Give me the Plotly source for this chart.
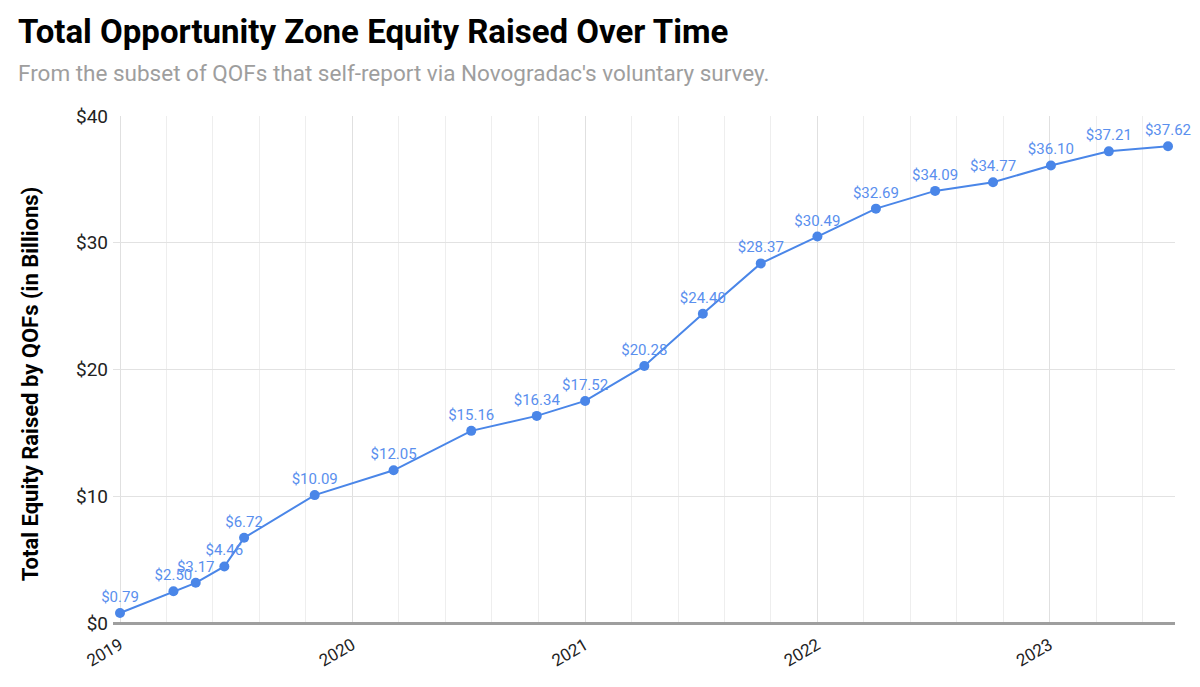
import pandas as pd
import plotly.graph_objects as go

# data (cumulative equity, $ billions)
report_dates = ["2019-01-01", "2019-03-26", "2019-04-30", "2019-06-14", "2019-07-15",
                "2019-11-03", "2020-03-06", "2020-07-06", "2020-10-17", "2021-01-01",
                "2021-04-04", "2021-07-05", "2021-10-04", "2022-01-01", "2022-04-03",
                "2022-07-05", "2022-10-04", "2023-01-03", "2023-04-04", "2023-07-06"]
equity_raised = [0.79, 2.50, 3.17, 4.46, 6.72,
                 10.09, 12.05, 15.16, 16.34, 17.52,
                 20.28, 24.40, 28.37, 30.49, 32.69,
                 34.09, 34.77, 36.10, 37.21, 37.62]
year_ticks = ["2019", "2020", "2021", "2022", "2023"]
y_ticks = [0, 10, 20, 30, 40]

blue = "#4a86e8"
label_blue = "#5a8fee"

dates = pd.to_datetime(report_dates)

# minor gridlines: five per year, like the sheets chart
minor_grid = []
for yr in range(2019, 2024):
    start = pd.Timestamp(f"{yr}-01-01")
    end = pd.Timestamp(f"{yr + 1}-01-01")
    for k in range(1, 5):
        minor_grid.append(start + (end - start) * k / 5)

pad = pd.Timedelta(days=11)

fig = go.Figure()
fig.add_trace(go.Scatter(
    x=dates,
    y=equity_raised,
    mode="lines+markers+text",
    line=dict(color=blue, width=2),
    marker=dict(color=blue, size=10),
    text=[f"${v:.2f}" for v in equity_raised],
    textposition="top center",
    textfont=dict(family="Roboto", size=15, color=label_blue),
    cliponaxis=False,
    showlegend=False,
))

# page body adds an 8px offset, so the figure is 8px smaller than the window
fig.update_layout(
    width=1192, height=679,
    template="simple_white",
    plot_bgcolor="white", paper_bgcolor="white",
    margin=dict(l=105, r=25, t=108, b=64, autoexpand=False),
    font=dict(family="Roboto", size=17, color="#222"),
)

fig.add_annotation(
    text="<b>Total Opportunity Zone Equity Raised Over Time</b>",
    xref="paper", yref="paper", x=0, y=1, xanchor="left", yanchor="middle",
    xshift=-97, yshift=85, showarrow=False,
    font=dict(family="Roboto", size=33, color="black"),
)
fig.add_annotation(
    text="From the subset of QOFs that self-report via Novogradac's voluntary survey.",
    xref="paper", yref="paper", x=0, y=1, xanchor="left", yanchor="middle",
    xshift=-97, yshift=43, showarrow=False,
    font=dict(family="Roboto", size=22.5, color="#9e9e9e"),
)
fig.add_annotation(
    text="<b>Total Equity Raised by QOFs (in Billions)</b>",
    xref="paper", yref="paper", x=0, y=0.471, xanchor="center", yanchor="middle",
    xshift=-83, textangle=-90, showarrow=False,
    font=dict(family="Roboto", size=22, color="black"),
)

fig.update_xaxes(
    type="date",
    range=[dates.min() - pad, dates.max() + pad],
    tickvals=pd.to_datetime([f"{y}-01-01" for y in year_ticks]),
    ticktext=year_ticks,
    tickangle=-30,
    ticklabelstandoff=8,
    ticks="", showline=False, zeroline=False, automargin=False,
    showgrid=True, gridcolor="#e0e0e0", gridwidth=1.3,
    minor=dict(tickvals=minor_grid, showgrid=True, gridcolor="#eeeeee", gridwidth=1, ticks=""),
    tickfont=dict(family="Roboto", size=17, color="#222"),
)

fig.update_yaxes(
    range=[0, 40],
    tickvals=y_ticks,
    ticktext=[f"${v}" for v in y_ticks],
    ticklabelstandoff=4,
    ticks="", showline=False, automargin=False,
    showgrid=True, gridcolor="#e2e2e2", gridwidth=1,
    zeroline=True, zerolinecolor="#9e9e9e", zerolinewidth=2.5,
    tickfont=dict(family="Roboto", size=19, color="#222"),
)

fig.write_html("out.html")
